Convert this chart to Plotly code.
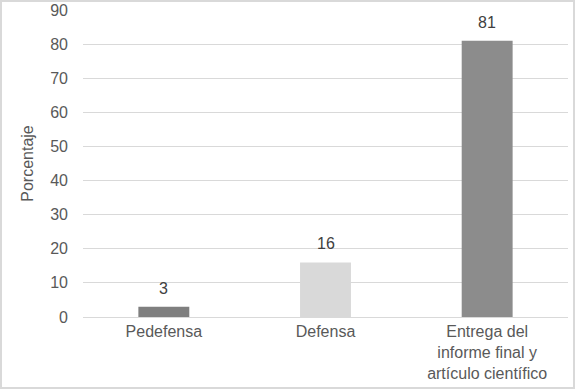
import plotly.graph_objects as go

categories = ["Pedefensa", "Defensa", "Entrega del<br>informe final y<br>artículo científico"]
values = [3, 16, 81]
colors = ["#7f7f7f", "#d9d9d9", "#8c8c8c"]
y_ticks = [0, 10, 20, 30, 40, 50, 60, 70, 80, 90]

W, H = 575, 389
ml, mr, mt, mb = 83, 7, 10, 72
pw, ph = W - ml - mr, H - mt - mb
FONT = "Liberation Sans, Arial"

fig = go.Figure(go.Bar(
    x=categories, y=values, marker_color=colors, marker_line_width=0,
    hoverinfo="skip",
))

for c, v in zip(categories, values):
    fig.add_annotation(x=c, y=v, text=str(v), showarrow=False, yanchor="bottom",
                       yshift=8, font=dict(family=FONT, size=16, color="#404040"))

fig.update_layout(
    width=W, height=H,
    margin=dict(l=ml, r=mr, t=mt, b=mb, autoexpand=False),
    paper_bgcolor="white", plot_bgcolor="white",
    bargap=0.685, showlegend=False,
    font=dict(family=FONT, size=16, color="#595959"),
    xaxis=dict(showgrid=False, showline=True, linecolor="#d9d9d9", linewidth=1,
               ticks="", automargin=False, tickfont=dict(size=16, color="#595959")),
    yaxis=dict(range=[0, 90], tickvals=y_ticks, showgrid=True, gridcolor="#d9d9d9",
               gridwidth=1, zeroline=False, showline=False, ticks="",
               automargin=False, ticklabelstandoff=14,
               tickfont=dict(size=16, color="#595959"),
               title=dict(text="Porcentaje", font=dict(size=16, color="#595959"), standoff=12)),
    shapes=[dict(type="rect", xref="paper", yref="paper",
                 x0=(1 - ml) / pw, x1=(W - 1 - ml) / pw,
                 y0=-(H - 1 - mt - ph) / ph, y1=(ph + mt - 1) / ph,
                 line=dict(color="#d9d9d9", width=2))],
)

fig.write_html("out.html", config={"displayModeBar": False},
               post_script="document.body.style.margin='0';")
